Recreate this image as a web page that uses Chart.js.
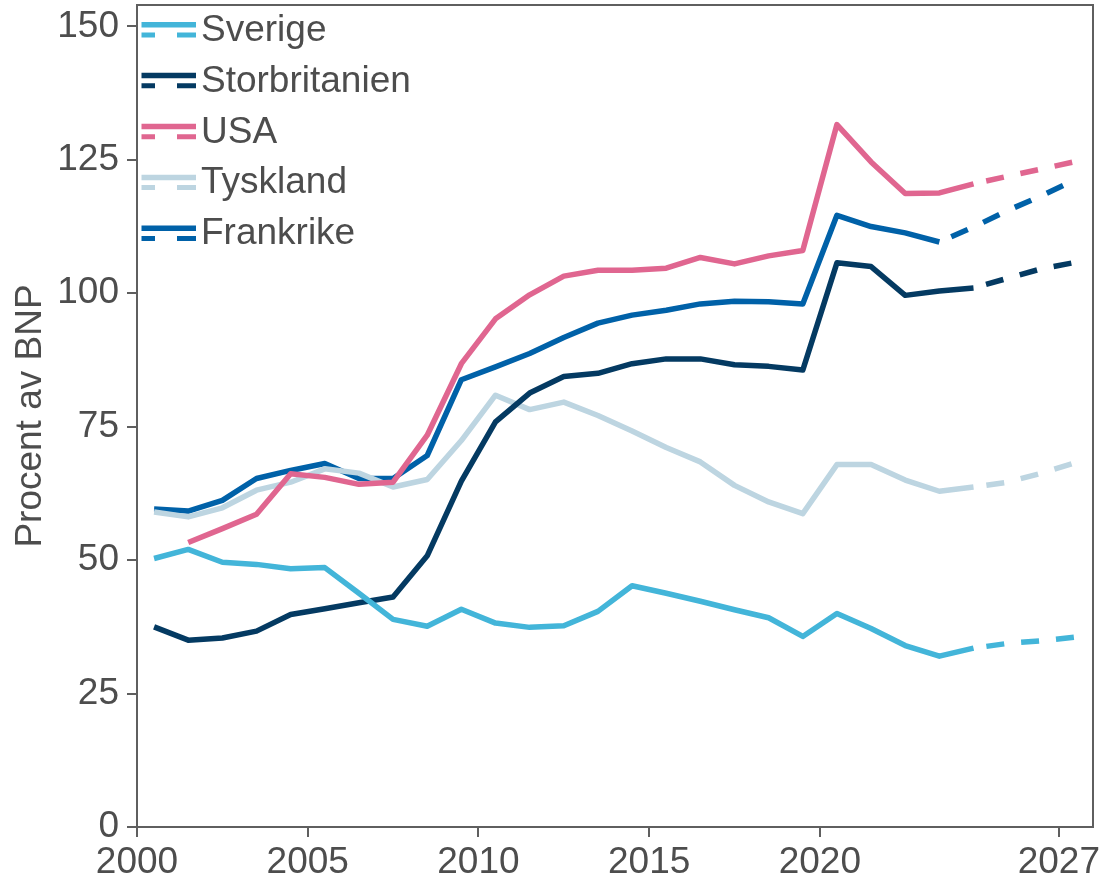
<!DOCTYPE html>
<html>
<head>
<meta charset="utf-8">
<script src="https://cdn.jsdelivr.net/npm/chart.js@4.4.1/dist/chart.umd.min.js"></script>
<style>
  html, body { margin: 0; padding: 0; background: #fff; }
  #wrap { width: 1104px; height: 882px; position: relative; }
</style>
</head>
<body>
<div id="wrap"><canvas id="chart"></canvas></div>
<script>
// Years (points sit mid-year on a linear year axis)
const years = [2000.5, 2001.5, 2002.5, 2003.5, 2004.5, 2005.5, 2006.5, 2007.5, 2008.5, 2009.5,
               2010.5, 2011.5, 2012.5, 2013.5, 2014.5, 2015.5, 2016.5, 2017.5, 2018.5, 2019.5,
               2020.5, 2021.5, 2022.5, 2023.5, 2024.5, 2025.5, 2026.5, 2027.5];

const sverige = [50.3, 52.0, 49.6, 49.2, 48.4, 48.6, 43.8, 38.9, 37.6, 40.8,
                 38.2, 37.4, 37.7, 40.4, 45.2, 43.8, 42.3, 40.7, 39.2, 35.7,
                 40.0, 37.2, 34.0, 32.0, 33.5, 34.4, 34.9, 35.6];
const storbritannien = [37.5, 35.0, 35.4, 36.7, 39.8, 40.9, 42.0, 43.1, 50.8, 64.8,
                        75.9, 81.3, 84.4, 85.0, 86.8, 87.7, 87.7, 86.6, 86.3, 85.6,
                        105.7, 105.0, 99.6, 100.4, 101.0, 102.8, 104.6, 105.8];
const usa = [null, 53.3, 55.9, 58.6, 66.2, 65.5, 64.2, 64.6, 73.4, 86.8,
             95.2, 99.7, 103.2, 104.3, 104.3, 104.7, 106.7, 105.5, 107.0, 108.0,
             131.6, 124.6, 118.7, 118.8, 120.5, 121.9, 123.3, 124.7];
const tyskland = [59.0, 58.1, 59.8, 63.1, 64.6, 67.1, 66.3, 63.7, 65.1, 72.4,
                  80.9, 78.2, 79.6, 77.1, 74.2, 71.1, 68.4, 64.0, 60.9, 58.7,
                  67.9, 67.9, 65.0, 62.9, 63.7, 64.6, 66.3, 68.3];
const frankrike = [59.6, 59.2, 61.2, 65.3, 66.8, 68.1, 65.3, 65.3, 69.6, 83.8,
                   86.2, 88.7, 91.7, 94.4, 95.9, 96.8, 98.0, 98.5, 98.4, 98.0,
                   114.6, 112.5, 111.3, 109.6, 112.4, 115.5, 118.3, 121.3];

// first year of the forecast (dashed) part per series
const forecastFrom = [2024.5, 2024.5, 2024.5, 2024.5, 2023.5];

const labels = ["Sverige", "Storbritanien", "USA", "Tyskland", "Frankrike"];
const colors = ["#43b5d9", "#043a62", "#e06690", "#bdd5e1", "#0061a8"];
const xTicks = [2000, 2005, 2010, 2015, 2020, 2027];
const yTicks = [0, 25, 50, 75, 100, 125, 150];

const FONT = "'Liberation Sans', Arial, sans-serif";
const TEXT = "#4d4d4d";
const AXIS = "#5f5f5f";

const seriesValues = [sverige, storbritannien, usa, tyskland, frankrike];

const datasets = seriesValues.map((vals, i) => ({
    label: labels[i],
    data: years.map((yr, j) => ({ x: yr, y: vals[j] })),
    borderColor: colors[i],
    backgroundColor: colors[i],
    borderWidth: 5.5,
    borderJoinStyle: "round",
    borderCapStyle: "butt",
    pointRadius: 0,
    tension: 0,
    fill: false,
    segment: {
        borderDash: ctx => ctx.p0.parsed.x >= forecastFrom[i] ? [18, 17] : undefined,
        borderDashOffset: ctx => ctx.p0.parsed.x >= forecastFrom[i] ? 22 : 0
    }
}));

// top/right frame plus the two-line legend
const framePlugin = {
    id: "frame",
    afterDraw(chart) {
        const { ctx, chartArea: a } = chart;
        ctx.save();
        ctx.strokeStyle = AXIS;
        ctx.lineWidth = 2;
        ctx.beginPath();
        ctx.moveTo(a.left, a.top);
        ctx.lineTo(a.right, a.top);
        ctx.lineTo(a.right, a.bottom);
        ctx.stroke();

        chart.data.datasets.forEach((ds, i) => {
            const ySolid = 24.7 + i * 50.9;
            const yDash = ySolid + 10.2;
            ctx.strokeStyle = ds.borderColor;
            ctx.lineWidth = 5.5;
            ctx.setLineDash([]);
            ctx.beginPath();
            ctx.moveTo(141.5, ySolid);
            ctx.lineTo(196, ySolid);
            ctx.stroke();
            ctx.lineWidth = 5;
            ctx.beginPath();
            ctx.moveTo(141.5, yDash);
            ctx.lineTo(155, yDash);
            ctx.moveTo(177, yDash);
            ctx.lineTo(196, yDash);
            ctx.stroke();

            ctx.fillStyle = TEXT;
            ctx.font = "37px " + FONT;
            ctx.textBaseline = "alphabetic";
            ctx.textAlign = "left";
            ctx.fillText(ds.label, 201, 40.7 + i * 50.9);
        });
        ctx.restore();
    }
};

new Chart(document.getElementById("chart"), {
    type: "line",
    data: { datasets },
    plugins: [framePlugin],
    options: {
        responsive: true,
        maintainAspectRatio: false,
        animation: false,
        layout: { padding: { top: 5, right: 11, left: 0, bottom: 0 } },
        plugins: {
            legend: { display: false },
            tooltip: { enabled: false }
        },
        scales: {
            x: {
                type: "linear",
                min: 2000,
                max: 2028,
                afterBuildTicks: axis => { axis.ticks = xTicks.map(v => ({ value: v })); },
                afterFit: scale => {
                    scale.height = 55;
                    scale.paddingLeft = 0;
                    scale.paddingRight = 0;
                },
                grid: { drawOnChartArea: false, drawTicks: true, tickLength: 10, color: AXIS, lineWidth: 2 },
                border: { display: true, color: AXIS, width: 2 },
                ticks: {
                    color: TEXT,
                    padding: 4,
                    maxRotation: 0,
                    autoSkip: false,
                    font: { family: FONT, size: 37 },
                    callback: v => String(v)
                }
            },
            y: {
                min: 0,
                max: 154,
                afterBuildTicks: axis => { axis.ticks = yTicks.map(v => ({ value: v })); },
                afterFit: scale => {
                    scale.width = 137;
                    scale.paddingTop = 0;
                    scale.paddingBottom = 0;
                },
                grid: { drawOnChartArea: false, drawTicks: true, tickLength: 10, color: AXIS, lineWidth: 2 },
                border: { display: true, color: AXIS, width: 2 },
                ticks: {
                    color: TEXT,
                    padding: 8,
                    font: { family: FONT, size: 37 }
                },
                title: {
                    display: true,
                    text: "Procent av BNP",
                    color: TEXT,
                    padding: { top: 9, bottom: 0 },
                    font: { family: FONT, size: 37 }
                }
            }
        }
    }
});
</script>
</body>
</html>
